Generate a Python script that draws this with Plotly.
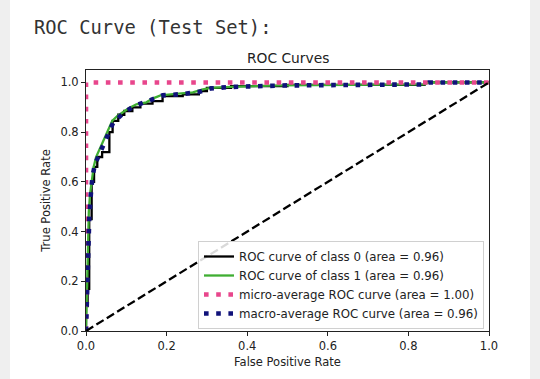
import plotly.graph_objects as go

# ---- data ----
fpr_class0 = [0.0, 0.004, 0.008, 0.014, 0.02, 0.028, 0.04, 0.058, 0.066, 0.08, 0.095, 0.115,
              0.135, 0.165, 0.19, 0.24, 0.28, 0.30, 0.36, 0.50, 0.84, 1.0]
tpr_class0 = [0.0, 0.10, 0.17, 0.45, 0.60, 0.66, 0.70, 0.72, 0.80, 0.845, 0.87, 0.885,
              0.90, 0.915, 0.925, 0.945, 0.952, 0.965, 0.978, 0.985, 0.99, 1.0]

fpr_class1 = [0.0, 0.002, 0.004, 0.007, 0.01, 0.014, 0.019, 0.025, 0.032, 0.04, 0.048, 0.056,
              0.065, 0.078, 0.09, 0.105, 0.125, 0.15, 0.165, 0.185, 0.23, 0.265, 0.29, 0.31,
              0.36, 0.48, 0.84, 0.85, 1.0]
tpr_class1 = [0.0, 0.18, 0.33, 0.48, 0.55, 0.61, 0.66, 0.70, 0.725, 0.75, 0.78, 0.81,
              0.845, 0.865, 0.88, 0.895, 0.912, 0.92, 0.935, 0.948, 0.955, 0.96, 0.972, 0.978,
              0.982, 0.988, 0.992, 1.0, 1.0]

fpr_micro = [0.0, 0.0, 1.0]
tpr_micro = [0.0, 1.0, 1.0]

fpr_macro = [0.0, 0.002, 0.005, 0.008, 0.012, 0.016, 0.022, 0.03, 0.038, 0.048, 0.058, 0.068,
             0.085, 0.1, 0.12, 0.145, 0.17, 0.19, 0.24, 0.28, 0.31, 0.36, 0.5, 0.84, 0.85, 1.0]
tpr_macro = [0.0, 0.15, 0.32, 0.45, 0.55, 0.62, 0.67, 0.70, 0.73, 0.76, 0.80, 0.84,
             0.865, 0.885, 0.905, 0.918, 0.935, 0.948, 0.953, 0.962, 0.976, 0.982, 0.988, 0.992, 1.0, 1.0]

diag_x = [0.0, 1.0]
diag_y = [0.0, 1.0]

labels = ["ROC curve of class 0 (area = 0.96)",
          "ROC curve of class 1 (area = 0.96)",
          "micro-average ROC curve (area = 1.00)",
          "macro-average ROC curve (area = 0.96)"]
tick_vals = [0.0, 0.2, 0.4, 0.6, 0.8, 1.0]
tick_text = ["0.0", "0.2", "0.4", "0.6", "0.8", "1.0"]

# ---- layout geometry (pixels) ----
W, H = 540, 379
L, R, T, B = 86, 489, 70, 331
pw, ph = R - L, B - T


def px_x(p):
    return (p - L) / pw


def px_y(p):
    return (B - p) / ph


FONT = "DejaVu Sans, Liberation Sans, sans-serif"

fig = go.Figure()
fig.add_trace(go.Scatter(x=fpr_class0, y=tpr_class0, mode="lines", name=labels[0],
                         line=dict(color="black", width=2.3, shape="vh")))
fig.add_trace(go.Scatter(x=fpr_class1, y=tpr_class1, mode="lines", name=labels[1],
                         line=dict(color="#3fae32", width=2.3)))
fig.add_trace(go.Scatter(x=fpr_micro, y=tpr_micro, mode="lines", name=labels[2],
                         line=dict(color="#e8468c", width=4.6, dash="4.6px,7.6px")))
fig.add_trace(go.Scatter(x=fpr_macro, y=tpr_macro, mode="lines", name=labels[3],
                         line=dict(color="#10127a", width=4.6, dash="4.6px,7.6px")))
fig.add_trace(go.Scatter(x=diag_x, y=diag_y, mode="lines", showlegend=False,
                         line=dict(color="black", width=2.3, dash="8.5px,3.7px")))

axis_common = dict(showgrid=False, zeroline=False, showline=True, linecolor="#222",
                   linewidth=1, mirror=True, ticks="outside", ticklen=4, tickwidth=1,
                   tickcolor="#222", tickvals=tick_vals, ticktext=tick_text,
                   tickfont=dict(family=FONT, size=11.5, color="#222"))

fig.update_layout(
    width=W, height=H,
    margin=dict(l=L, r=W - R, t=T, b=H - B, pad=0),
    paper_bgcolor="white", plot_bgcolor="white",
    xaxis=dict(range=[0, 1], title=dict(text="False Positive Rate", standoff=6,
                                        font=dict(family=FONT, size=11.5, color="#222")),
               **axis_common),
    yaxis=dict(range=[0, 1.05], title=dict(text="True Positive Rate", standoff=7,
                                           font=dict(family=FONT, size=11.5, color="#222")),
               **axis_common),
    legend=dict(x=px_x(484), y=px_y(329), xanchor="right", yanchor="bottom",
                bgcolor="rgba(255,255,255,0.85)", bordercolor="#d0d0d0", borderwidth=1,
                font=dict(family=FONT, size=11.8, color="#222"), tracegroupgap=0,
                itemwidth=30),
    showlegend=True,
    shapes=[
        dict(type="rect", xref="paper", yref="paper", x0=px_x(0), x1=px_x(10),
             y0=px_y(H), y1=px_y(0), fillcolor="#efefef", line=dict(width=0), layer="below"),
        dict(type="rect", xref="paper", yref="paper", x0=px_x(530), x1=px_x(W),
             y0=px_y(H), y1=px_y(0), fillcolor="#efefef", line=dict(width=0), layer="below"),
    ],
    annotations=[
        dict(text="ROC Curve (Test Set):", xref="paper", yref="paper", x=px_x(31.5), y=px_y(28),
             xanchor="left", yanchor="middle", showarrow=False,
             font=dict(family="DejaVu Sans Mono, monospace", size=18.8, color="#333")),
        dict(text="ROC Curves", xref="paper", yref="paper", x=0.5, y=px_y(58),
             xanchor="center", yanchor="middle", showarrow=False,
             font=dict(family=FONT, size=13.8, color="#222")),
    ],
)

fig.write_html("out.html", config={"displayModeBar": False},
               post_script="document.body.style.margin='0';document.body.style.overflow='hidden';")
